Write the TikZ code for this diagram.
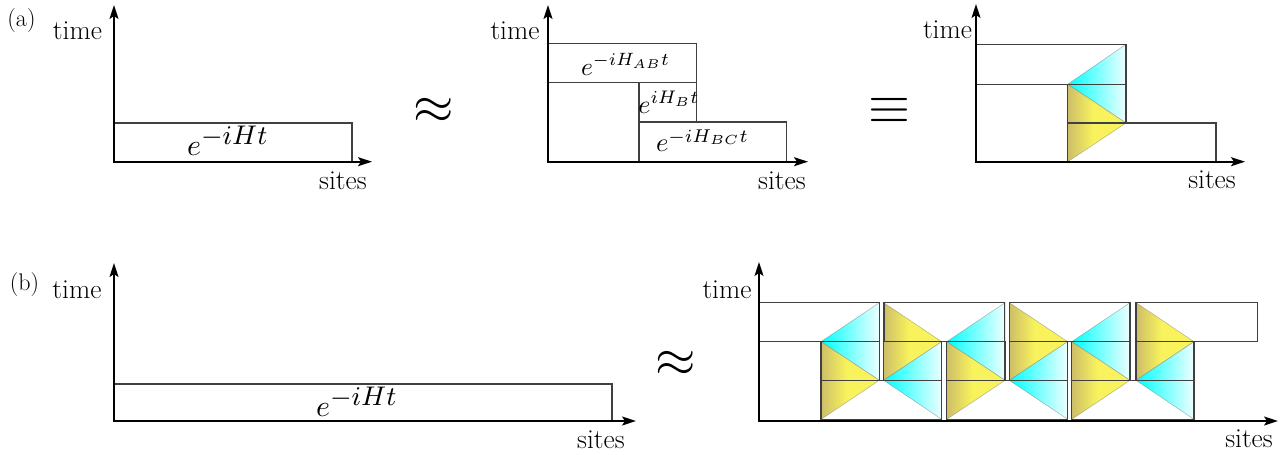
\documentclass[tikz,border=0pt]{standalone}
\usepackage{graphicx}
\usetikzlibrary{arrows.meta}
\definecolor{ymain}{RGB}{248,243,92}
\definecolor{ydark}{RGB}{205,190,105}
\definecolor{cmain}{RGB}{0,255,255}
\definecolor{cpale}{RGB}{238,255,255}
\pgfdeclarehorizontalshading{yelsh}{100bp}{color(0bp)=(ydark); color(25bp)=(ydark); color(47bp)=(ymain); color(100bp)=(ymain)}
\tikzset{
  axisline/.style={line width=1.7pt, {Stealth[length=14pt,width=9pt,inset=3pt]}-{Stealth[length=14pt,width=9pt,inset=3pt]}},
  boxline/.style={line width=1.1pt, draw=black!75},
  lbl/.style={inner sep=0pt, anchor=base, font=\fontsize{27.5}{31}\selectfont},
  mth/.style={inner sep=0pt, anchor=base},
  tag/.style={inner sep=0pt, font=\fontsize{24}{28}\selectfont},
  rel/.style={inner sep=0pt},
  cyantri/.style={left color=cmain, right color=cpale, draw=black!50, draw opacity=0.6, line width=0.5pt},
  yeltri/.style={shading=yelsh, draw=black!50, draw opacity=0.6, line width=0.5pt},
}
\newcommand{\bigU}{\scalebox{3}{$e^{\hbox{\fontsize{9}{10}\selectfont$-iHt$}}$}}
\begin{document}
\begin{tikzpicture}[x=1pt,y=-1pt]
\useasboundingbox (0,0) rectangle (1285,455);

% ---------- (a) left ----------
\node[tag] (la) at (21.5,20.5) {(a)};
\draw[boxline] (114,123) rectangle (352,161.7);
\coordinate (ay1) at (114,5);
\coordinate (ax1) at (372,161.7);
\draw[axisline] (ay1) |- (ax1);
\node[lbl] (time1) at (77.5,39.3) {time};
\node[lbl] (sites1) at (343,189) {sites};
\node[mth] (u1) at (228,155) {\bigU};

\node[rel] (approx1) at (434,110.5) {\scalebox{5.2}{$\approx$}};

% ---------- (a) middle ----------
\draw[boxline] (548,43.3) rectangle (696.7,82.7);
\draw[boxline] (639,82.7) rectangle (696.7,122);
\draw[boxline] (639,122) rectangle (786.7,161.7);
\coordinate (ay2) at (548,5);
\coordinate (ax2) at (808,161.7);
\draw[axisline] (ay2) |- (ax2);
\node[lbl] (time2) at (515,39.3) {time};
\node[lbl] (sites2) at (782,189) {sites};
\node[mth] (uab) at (625.5,75) {\scalebox{2.55}{$e^{-iH_{AB}t}$}};
\node[mth] (ub) at (669,113) {\scalebox{2.6}{$e^{iH_Bt}$}};
\node[mth] (ubc) at (702.5,151.7) {\scalebox{2.65}{$e^{-iH_{BC}t}$}};

\node[rel] (equiv1) at (889.5,110.5) {\scalebox{5.4}{$\equiv$}};

% ---------- (a) right ----------
\shadedraw[cyantri] (1067.7,84.3) -- (1126,44.3) -- (1126,123) -- cycle;
\shadedraw[yeltri] (1067.7,84.3) -- (1126,123) -- (1067.7,161.7) -- cycle;
\draw[boxline] (976,44.3) rectangle (1126,84.3);
\draw[boxline] (1067.7,84.3) rectangle (1126,123);
\draw[boxline] (1067.7,123) rectangle (1216,161.7);
\coordinate (ay3) at (976,4);
\coordinate (ax3) at (1245,161.7);
\draw[axisline] (ay3) |- (ax3);
\node[lbl] (time3) at (947.5,38.5) {time};
\node[lbl] (sites3) at (1212,188.5) {sites};

% ---------- (b) left ----------
\node[tag] (lb) at (24.5,285) {(b)};
\draw[boxline] (114,384) rectangle (612,421);
\coordinate (by1) at (114,263);
\coordinate (bx1) at (636,421);
\draw[axisline] (by1) |- (bx1);
\node[lbl] (time4) at (77,298) {time};
\node[lbl] (sites4) at (601,448) {sites};
\node[mth] (u2) at (357,416) {\bigU};

\node[rel] (approx2) at (676,364) {\scalebox{5.2}{$\approx$}};

% ---------- (b) right ----------
\foreach \L/\R in {821/879.3, 946.7/1005, 1071.7/1130} {
  \shadedraw[cyantri] (\L,341.7) -- (\R,302.7) -- (\R,380.3) -- cycle;
  \shadedraw[yeltri] (\L,341.7) -- (\R,380.3) -- (\L,419.3) -- cycle;
}
\foreach \L/\R in {883.7/941.7, 1009.3/1067.7, 1136/1194} {
  \shadedraw[yeltri] (\L,302.7) -- (\R,341.7) -- (\L,380.3) -- cycle;
  \shadedraw[cyantri] (\L,380.3) -- (\R,341.7) -- (\R,419.3) -- cycle;
}
\foreach \a/\b in {759/879.3, 884/1004.3, 1009.3/1130, 1136/1257.7}
  \draw[boxline] (\a,302.7) rectangle (\b,341.7);
\foreach \a/\b in {821/879.3, 883.7/941.7, 946.7/1005, 1009.3/1067.7, 1071.7/1130, 1136/1194}
  \draw[boxline] (\a,341.7) rectangle (\b,380.3);
\foreach \a/\b in {821/941.7, 946.7/1067.7, 1071.7/1194}
  \draw[boxline] (\a,380.3) rectangle (\b,419.3);
\coordinate (by2) at (759,262);
\coordinate (bx2) at (1278,421);
\draw[axisline] (by2) |- (bx2);
\node[lbl] (time5) at (727,298) {time};
\node[lbl] (sites5) at (1249,447) {sites};
\end{tikzpicture}
\end{document}
